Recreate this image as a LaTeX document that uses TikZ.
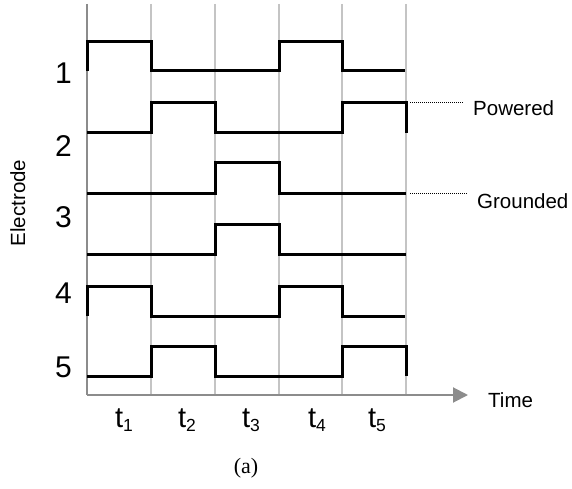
\documentclass[tikz,border=0pt]{standalone}
\usepackage{fontspec}
\setmainfont{Liberation Sans}
\newfontfamily\capfont{Liberation Serif}
\usetikzlibrary{arrows.meta}
\definecolor{gridgray}{HTML}{C4C4C4}
\definecolor{axisgray}{HTML}{8C8C8C}
\begin{document}
\begin{tikzpicture}[x=1pt,y=-1pt,
  gridline/.style={draw=gridgray,line width=1.3pt},
  axisline/.style={draw=axisgray,line width=2pt},
  wave/.style={draw=black,line width=3pt,line join=miter},
  num/.style={inner sep=0pt,font=\fontsize{30}{32}\selectfont},
  tlab/.style={inner sep=0pt,anchor=base,font=\fontsize{29}{31}\selectfont},
  side/.style={inner sep=0pt,anchor=base west,font=\fontsize{20.5}{22}\selectfont},
  dotline/.style={draw=black,line width=0.9pt,dash pattern=on 0.9pt off 1.1pt}]
\useasboundingbox (0,0) rectangle (572,489);
% grid
\foreach \x in {151,215,279,342,406} \draw[gridline] (\x,4) -- (\x,395);
\coordinate (O) at (87,395);
\coordinate (top) at (87,4);
\coordinate (tend) at (468,395);
\draw[axisline] (top) -- (O);
\draw[axisline,-{Triangle[length=15pt,width=15pt]}] (O) -- (tend);
% waveforms
\draw[wave] (87,71) -- (87,42) -- (151,42) -- (151,71) -- (279,71) -- (279,42) -- (342,42) -- (342,71) -- (405,71);
\draw[wave] (87,133) -- (151,133) -- (151,103) -- (215,103) -- (215,133) -- (342,133) -- (342,103) -- (406,103) -- (406,133);
\draw[wave] (87,193) -- (215,193) -- (215,163) -- (279,163) -- (279,193) -- (406,193);
\draw[wave] (87,254) -- (215,254) -- (215,224) -- (279,224) -- (279,254) -- (406,254);
\draw[wave] (87,316) -- (87,286) -- (151,286) -- (151,316) -- (279,316) -- (279,286) -- (342,286) -- (342,316) -- (405,316);
\draw[wave] (87,376) -- (151,376) -- (151,346) -- (215,346) -- (215,376) -- (342,376) -- (342,346) -- (406,346) -- (406,376);
% electrode numbers
\node[num] (e1) at (63.5,73) {1};
\node[num] (e2) at (63.5,146) {2};
\node[num] (e3) at (63.5,217) {3};
\node[num] (e4) at (63.5,293) {4};
\node[num] (e5) at (63.5,367) {5};
% axis labels
\node[inner sep=0pt,anchor=base,rotate=90,font=\fontsize{20.5}{22}\selectfont] (elab) at (25,203) {Electrode};
\node[side] (time) at (488,407) {Time};
% time slot labels
\newcommand{\tsub}[1]{t\raisebox{-4pt}{\fontsize{17.5}{18}\selectfont #1}}
\node[tlab] (t1) at (124,427) {\tsub{1}};
\node[tlab] (t2) at (187,427) {\tsub{2}};
\node[tlab] (t3) at (251,427) {\tsub{3}};
\node[tlab] (t4) at (317,427) {\tsub{4}};
\node[tlab] (t5) at (377,427) {\tsub{5}};
% legend
\node[side] (pow) at (473,116) {Powered};
\node[side] (gnd) at (477,208) {Grounded};
\coordinate (pws) at (410,102);
\coordinate (gns) at (410,193);
\draw[dotline] (pws) -- (pws -| 463,0);
\draw[dotline] (gns) -- (gns -| 467,0);
% caption
\node[inner sep=0pt,anchor=base,font=\capfont\fontsize{22}{24}\selectfont] (cap) at (246,473) {(a)};
\end{tikzpicture}
\end{document}
